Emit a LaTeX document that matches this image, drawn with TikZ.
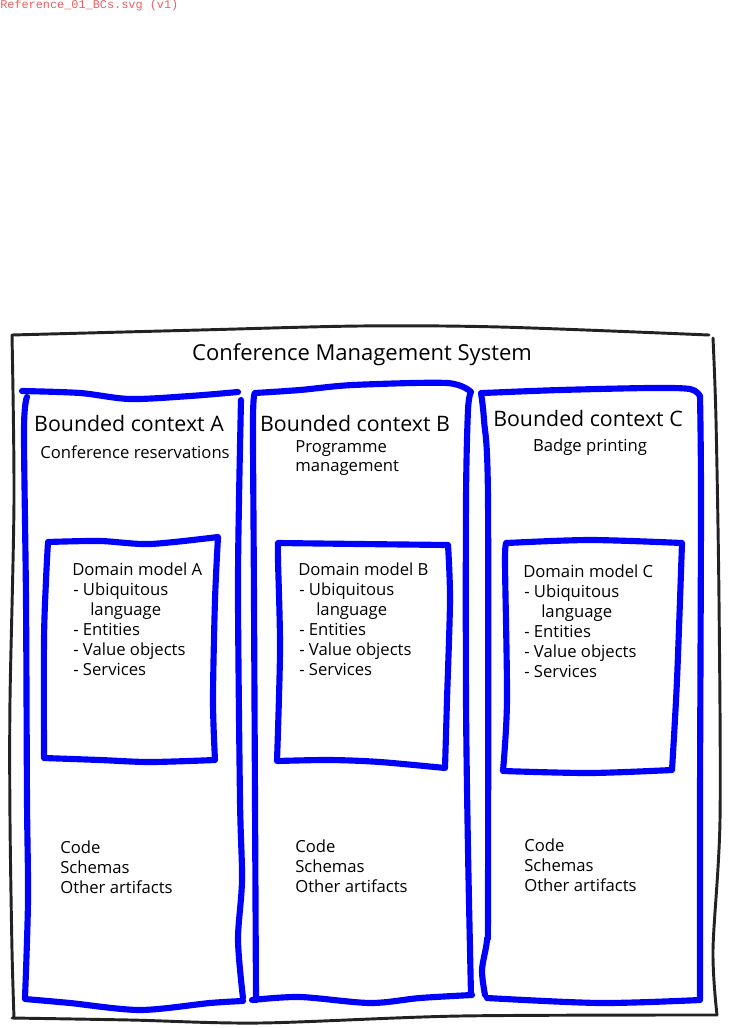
\documentclass[tikz,border=0pt]{standalone}
\usepackage{fontspec}
\setmainfont{Open Sans}
\newfontfamily\hdrfont{Liberation Mono}
\definecolor{hdrred}{RGB}{232,96,96}
\definecolor{syscol}{RGB}{34,34,34}
\tikzset{
  sysline/.style={draw=syscol,line width=2.2pt,line cap=round,line join=round},
  bcline/.style={draw=blue,line width=4.6pt,line cap=round,line join=round},
  txt/.style={anchor=west,inner sep=0pt,text height=0.72em,text depth=0.2em,
    yshift=-2.7pt,font=\fontsize{12.5}{15}\selectfont},
  sub/.style={txt,anchor=center},
  bctitle/.style={sub,yshift=-1pt,font=\fontsize{16}{19}\selectfont},
  systitle/.style={sub,yshift=-1pt,font=\fontsize{16.5}{20}\selectfont},
}
\begin{document}
\begin{tikzpicture}[x=0.75pt,y=-0.75pt]
\useasboundingbox (0,0) rectangle (729,1028);
% 文件名
\node[anchor=west,inner sep=0pt,text=hdrred,font=\hdrfont\fontsize{8.9}{10}\selectfont]
  (ref) at (0,5) {Reference\_01\_BCs.svg (v1)};
% 系统外框（手绘）
\draw[sysline] plot[smooth] coordinates {(12,335) (200,330) (360,326) (500,327) (709,335)};
\draw[sysline] plot[smooth] coordinates {(713,338) (716,420) (719,600) (720,820) (713,950) (717,1015)};
\draw[sysline] plot[smooth] coordinates {(12,1018) (130,1020) (260,1023) (460,1016) (717,1015)};
\draw[sysline] plot[smooth] coordinates {(12,335) (14,500) (10,700) (10,820) (12,950) (14,1018)};
\node[systitle] (sys) at (362,352) {Conference Management System};
% 限界上下文 A
\draw[bcline] plot[smooth] coordinates {(22,391) (80,393) (130,399) (190,396) (238,392)};
\draw[bcline] plot[smooth] coordinates {(27,397) (24,430) (26,600) (27,800) (28,900) (25,998)}
  -- plot[smooth] coordinates {(25,999) (70,1003) (140,1010) (210,1003) (243,1001)};
\draw[bcline] plot[smooth] coordinates {(241,400) (239,500) (238,600) (240,800) (242,880) (238,940) (243,998)};
% 限界上下文 B
\draw[bcline] plot[smooth] coordinates {(256,1000) (254,600) (253,420) (255,393)}
  -- plot[smooth] coordinates {(255,393) (300,390) (353,385) (447,383) (471,392)}
  -- plot[smooth] coordinates {(471,392) (468,410) (466,500) (466,700) (468,850) (471,995)};
\draw[bcline] plot[smooth] coordinates {(252,1000) (300,997) (370,1003) (420,998) (472,995)};
% 限界上下文 C
\draw[bcline] plot[smooth] coordinates {(485,995) (482,970) (487,940) (488,900) (488,500) (484,420) (481,393)};
\draw[bcline] plot[smooth] coordinates {(483,393) (560,390) (650,388) (690,389) (700,396)}
  -- plot[smooth] coordinates {(700,396) (701,500) (700,800) (700,1000)}
  -- plot[smooth] coordinates {(700,1000) (600,1003) (487,998)};
% 领域模型框
\draw[bcline] plot[smooth] coordinates {(48,542) (100,541) (150,544) (218,537)}
  -- plot[smooth] coordinates {(218,537) (215,600) (213,700) (215,760)}
  -- plot[smooth] coordinates {(215,760) (150,762) (100,760) (44,758)}
  -- plot[smooth] coordinates {(44,758) (44,640) (46,580) (48,542)};
\draw[bcline] plot[smooth] coordinates {(278,543) (360,544) (448,545)}
  -- plot[smooth] coordinates {(448,545) (450,600) (447,700) (445,768)}
  -- plot[smooth] coordinates {(445,768) (380,762) (330,760) (277,761)}
  -- plot[smooth] coordinates {(277,761) (280,650) (278,560) (278,543)};
\draw[bcline] plot[smooth] coordinates {(507,543) (590,540) (682,543)}
  -- plot[smooth] coordinates {(682,543) (677,680) (672,770)}
  -- plot[smooth] coordinates {(672,770) (590,773) (503,771)}
  -- plot[smooth] coordinates {(503,771) (507,700) (505,560) (507,543)};
% 标题文字
\node[bctitle] (bcA) at (129,423) {Bounded context A};
\node[sub] (subA) at (135,451) {Conference reservations};
\node[bctitle] (bcB) at (355,423) {Bounded context B};
\node[txt] (subB1) at (295,445) {Programme};
\node[txt] (subB2) at (295,464) {management};
\node[bctitle] (bcC) at (588,418) {Bounded context C};
\node[sub] (subC) at (590,444) {Badge printing};
% 领域模型内容
\foreach \n/\x/\y in {A/72/568, B/298/568, C/523/570}{
  \node[txt] (dm\n) at (\x,\y) {Domain model \n};
  \node[txt] (ul\n) at ({\x+1},{\y+20}) {- Ubiquitous};
  \node[txt] (lang\n) at ({\x+18},{\y+40}) {language};
  \node[txt] (ent\n) at ({\x+1},{\y+60}) {- Entities};
  \node[txt] (vo\n) at ({\x+1},{\y+80}) {- Value objects};
  \node[txt] (srv\n) at ({\x+1},{\y+100}) {- Services};
}
% 其他产物
\foreach \n/\x/\y in {A/60/846, B/295/845, C/524/844}{
  \node[txt] (code\n) at (\x,\y) {Code};
  \node[txt] (sch\n) at (\x,{\y+20}) {Schemas};
  \node[txt] (oth\n) at (\x,{\y+40}) {Other artifacts};
}
\end{tikzpicture}
\end{document}
